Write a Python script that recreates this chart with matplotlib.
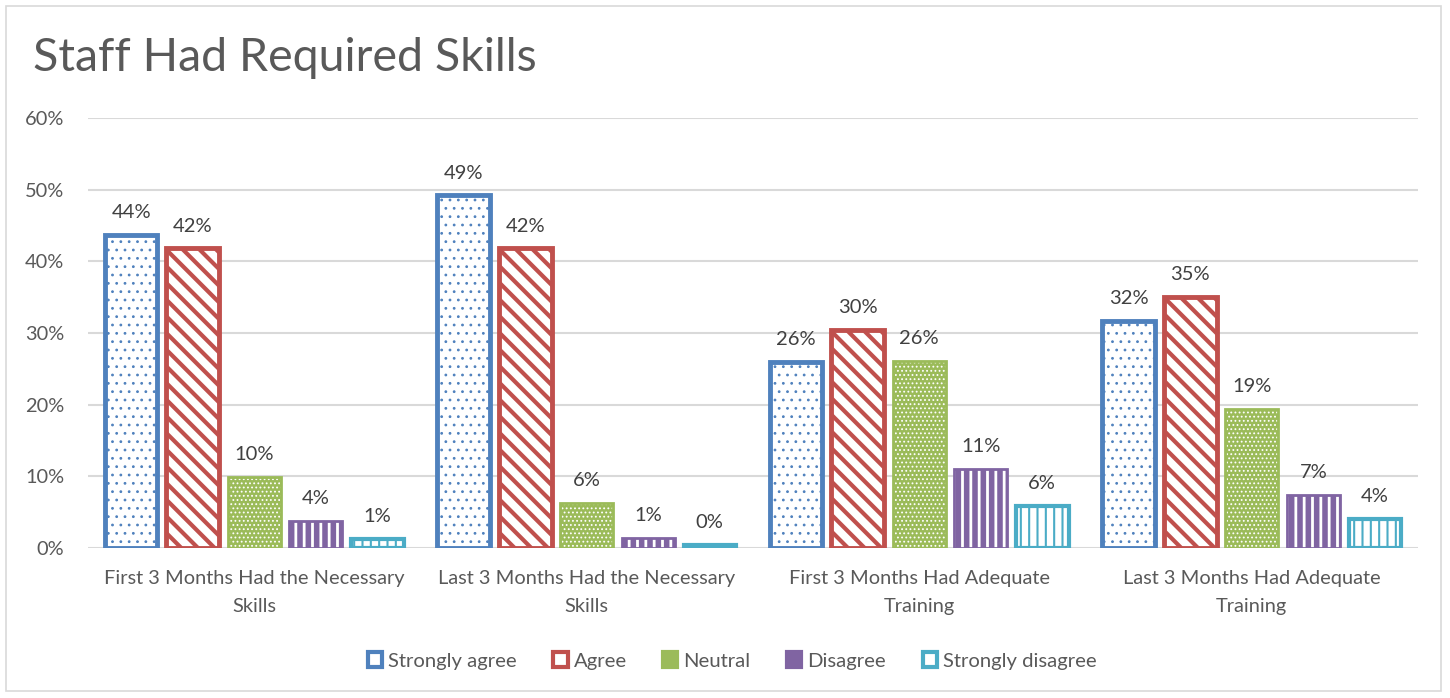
import matplotlib.pyplot as plt
import numpy as np
from matplotlib.patches import Rectangle, Patch

plt.rcParams['font.family'] = ['Lato', 'DejaVu Sans']

# Data
categories = ['First 3 Months Had the Necessary\nSkills',
              'Last 3 Months Had the Necessary\nSkills',
              'First 3 Months Had Adequate\nTraining',
              'Last 3 Months Had Adequate\nTraining']
series = ['Strongly agree', 'Agree', 'Neutral', 'Disagree', 'Strongly disagree']
strongly_agree = [0.437, 0.492, 0.259, 0.317]
agree = [0.418, 0.418, 0.304, 0.350]
neutral = [0.099, 0.063, 0.261, 0.194]
disagree = [0.038, 0.014, 0.110, 0.074]
strongly_disagree = [0.013, 0.004, 0.059, 0.040]
values = [strongly_agree, agree, neutral, disagree, strongly_disagree]

colors = ['#4F81BD', '#C0504D', '#9BBB59', '#8064A2', '#4BACC6']
# (face, hatch colour, hatch, hatch linewidth, edge linewidth)
styles = [
    ('white', colors[0], '..', 0.8, 3.5),
    ('white', colors[1], '\\\\', 3.0, 3.5),
    (colors[2], 'white', '....', 0.8, 2.0),
    (colors[3], 'white', '||', 2.0, 2.0),
    ('white', colors[4], '||', 1.5, 3.0),
]

text_gray = '#595959'

fig = plt.figure(figsize=(14.5, 6.98), dpi=100)
fig.patches.append(Rectangle((6 / 1450, 1 - 691 / 698), 1435 / 1450, 685 / 698,
                             transform=fig.transFigure, fill=False,
                             edgecolor='#D9D9D9', linewidth=1.2))
ax = fig.add_axes([88 / 1450, 1 - 548 / 698, 1330 / 1450, 430 / 698])

x = np.arange(len(categories))
pitch = 0.185
width = 0.158
handles = []
for i, (name, vals) in enumerate(zip(series, values)):
    face, hcol, hatch, hlw, elw = styles[i]
    pos = x + (i - 2) * pitch
    bars = ax.bar(pos, vals, width, color=face, edgecolor=hcol, hatch=hatch,
                  linewidth=0, zorder=3)
    for b in bars:
        if hasattr(b, 'set_hatch_linewidth'):
            b.set_hatch_linewidth(hlw)
    ax.bar(pos, vals, width, fill=False, edgecolor=colors[i], linewidth=elw,
           zorder=4)
    for p, v in zip(pos, vals):
        ax.annotate(f'{round(v * 100):.0f}%', (p, v), xytext=(0, 10),
                    textcoords='offset points', ha='center', va='bottom',
                    fontsize=14.5, color='#404040')
    handles.append(Patch(facecolor=face, edgecolor=colors[i], linewidth=3))

ax.set_ylim(0, 0.6)
ax.set_xlim(-0.5, 3.5)
ax.set_yticks(np.arange(0, 0.61, 0.1))
ax.set_yticklabels([f'{v}%' for v in range(0, 61, 10)])
ax.set_xticks(x)
ax.set_xticklabels(categories, linespacing=1.75)
ax.tick_params(axis='both', length=0, labelsize=14.4, labelcolor=text_gray)
ax.tick_params(axis='y', pad=17)
ax.tick_params(axis='x', pad=16)
ax.grid(axis='y', color='#D9D9D9', linewidth=1.5, zorder=0)
for s in ax.spines.values():
    s.set_visible(False)

fig.text(33 / 1450, 1 - 58 / 698, 'Staff Had Required Skills', fontsize=33.5,
         color=text_gray, ha='left', va='center')

fig.legend(handles, series, loc='center', bbox_to_anchor=(0.505, 1 - 661 / 698),
           ncol=5, frameon=False, fontsize=14.6, labelcolor=text_gray,
           handlelength=0.7, handleheight=0.7, handletextpad=0.3,
           columnspacing=1.8)

fig.savefig('out.png', dpi=100)
